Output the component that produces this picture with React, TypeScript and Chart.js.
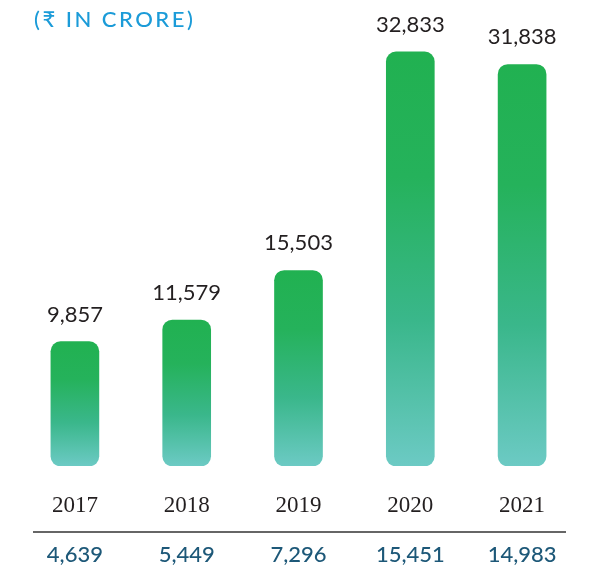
import React, { useEffect, useRef } from "react";
import { Chart, registerables } from "chart.js";

Chart.register(...registerables);

const years = ["2017", "2018", "2019", "2020", "2021"];
const topValues = [9857, 11579, 15503, 32833, 31838];
const bottomValues = [4639, 5449, 7296, 15451, 14983];
const title = "(₹ IN CRORE)";

const fmt = (v: number) => v.toLocaleString("en-US");

const textPlugin = {
  id: "textPlugin",
  afterDatasetsDraw(chart: any) {
    const ctx = chart.ctx;
    const x = chart.scales.x;
    const y = chart.scales.y;
    ctx.save();
    // title
    ctx.font = "500 22px Lato";
    (ctx as any).letterSpacing = "2.5px";
    ctx.fillStyle = "#1b9bd8";
    ctx.textAlign = "left";
    ctx.textBaseline = "alphabetic";
    ctx.fillText(title, 34, 27);
    (ctx as any).letterSpacing = "0px";

    ctx.textAlign = "center";
    years.forEach((yr, i) => {
      const cx = x.getPixelForValue(i);
      const top = y.getPixelForValue(topValues[i]);
      ctx.font = "400 22px Lato";
      ctx.fillStyle = "#231f20";
      ctx.fillText(fmt(topValues[i]), cx, top - 20);
      ctx.font = "400 23px 'Liberation Serif'";
      ctx.fillText(yr, cx, 512);
      ctx.font = "500 22px Lato";
      ctx.fillStyle = "#1d5878";
      ctx.fillText(fmt(bottomValues[i]), cx, 562);
    });
    ctx.strokeStyle = "#333333";
    ctx.lineWidth = 1.5;
    ctx.beginPath();
    ctx.moveTo(33, 532);
    ctx.lineTo(566, 532);
    ctx.stroke();
    ctx.restore();
  },
};

export default function App() {
  const ref = useRef<HTMLCanvasElement | null>(null);
  useEffect(() => {
    if (!ref.current) return;
    const chart = new Chart(ref.current, {
      type: "bar",
      data: {
        labels: years,
        datasets: [
          {
            data: topValues,
            backgroundColor: (c: any) => {
              const ch = c.chart;
              const ys = ch.scales?.y;
              if (!ys || c.type !== "data" || !ch.chartArea) return "#22b153";
              const top = ys.getPixelForValue(c.parsed.y);
              const bot = ys.getPixelForValue(0);
              if (!isFinite(top) || !isFinite(bot)) return "#22b153";
              const g = ch.ctx.createLinearGradient(0, top, 0, bot);
              g.addColorStop(0, "#21b151");
              g.addColorStop(0.3, "#25b25b");
              g.addColorStop(0.65, "#3ab78b");
              g.addColorStop(1, "#6ccac4");
              return g;
            },
            borderRadius: 10,
            borderSkipped: false,
            barThickness: 48,
          },
        ],
      },
      options: {
        animation: false,
        responsive: false,
        maintainAspectRatio: false,
        layout: { padding: { left: 19, right: 21, top: 12, bottom: 106 } },
        plugins: { legend: { display: false }, tooltip: { enabled: false } },
        scales: {
          x: { display: false },
          y: { display: false, min: 0, max: 36000 },
        },
      },
      plugins: [textPlugin],
    });
    return () => chart.destroy();
  }, []);
  return (
    <div style={{ position: "fixed", left: 0, top: 0, width: 599, height: 572, background: "#fff" }}>
      <canvas ref={ref} width={599} height={572} style={{ width: 599, height: 572 }} />
    </div>
  );
}
